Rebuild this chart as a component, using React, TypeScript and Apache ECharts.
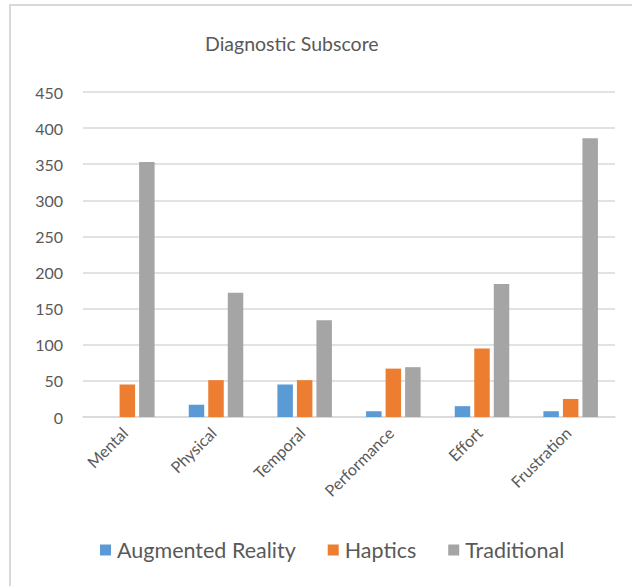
import React, { useEffect, useRef } from "react";
import * as echarts from "echarts";

const categories = ["Mental", "Physical", "Temporal", "Performance", "Effort", "Frustration"];
const augmentedReality = [0, 17, 45, 8, 15, 8];
const haptics = [45, 51, 51, 67, 95, 25];
const traditional = [353, 172, 134, 69, 184, 386];
const seriesNames = ["Augmented Reality", "Haptics", "Traditional"];
const colors = ["#5B9BD5", "#ED7D31", "#A5A5A5"];

const FONT = "Lato, 'Open Sans', sans-serif";
const TXT = "#595959";

export default function App() {
  const ref = useRef<HTMLDivElement>(null);
  useEffect(() => {
    if (!ref.current) return;
    const chart = echarts.init(ref.current, null, { renderer: "svg" });
    const values = [augmentedReality, haptics, traditional];
    chart.setOption({
      animation: false,
      backgroundColor: "#ffffff",
      textStyle: { fontFamily: FONT },
      title: {
        text: "Diagnostic Subscore",
        left: 205,
        top: 33,
        padding: 0,
        textStyle: { fontFamily: FONT, fontSize: 19.5, fontWeight: "normal", color: TXT },
      },
      graphic: [
        {
          type: "rect",
          shape: { x: 10, y: 5, width: 640, height: 600 },
          style: { fill: "none", stroke: "#d9d9d9", lineWidth: 2 },
          silent: true,
        },
      ],
      legend: {
        top: 539,
        left: 100,
        padding: 0,
        itemWidth: 11,
        itemHeight: 11,
        itemGap: 32,
        icon: "rect",
        textStyle: { fontFamily: FONT, fontSize: 21.5, color: TXT, padding: [0, 0, 0, 1] },
        data: seriesNames,
      },
      grid: { left: 83, right: 17, top: 92, bottom: 169, containLabel: false },
      xAxis: {
        type: "category",
        data: categories,
        axisLine: { lineStyle: { color: "#d9d9d9", width: 1.5 } },
        axisTick: { show: false },
        axisLabel: {
          interval: 0,
          rotate: 45,
          margin: 10,
          fontFamily: FONT,
          fontSize: 16,
          color: TXT,
          padding: [0, 4, 0, 0],
        },
      },
      yAxis: {
        type: "value",
        min: 0,
        max: 450,
        interval: 50,
        axisLine: { show: false },
        axisTick: { show: false },
        splitLine: { lineStyle: { color: "#d9d9d9", width: 1.5 } },
        axisLabel: { fontFamily: FONT, fontSize: 16, color: TXT, margin: 20 },
      },
      series: seriesNames.map((name, i) => ({
        name,
        type: "bar",
        data: values[i],
        barGap: "26%",
        barCategoryGap: "38.5%",
        itemStyle: { color: colors[i] },
      })),
    });
    return () => chart.dispose();
  }, []);
  return (
    <div
      ref={ref}
      style={{ position: "fixed", left: 0, top: 0, width: 632, height: 586 }}
    />
  );
}
